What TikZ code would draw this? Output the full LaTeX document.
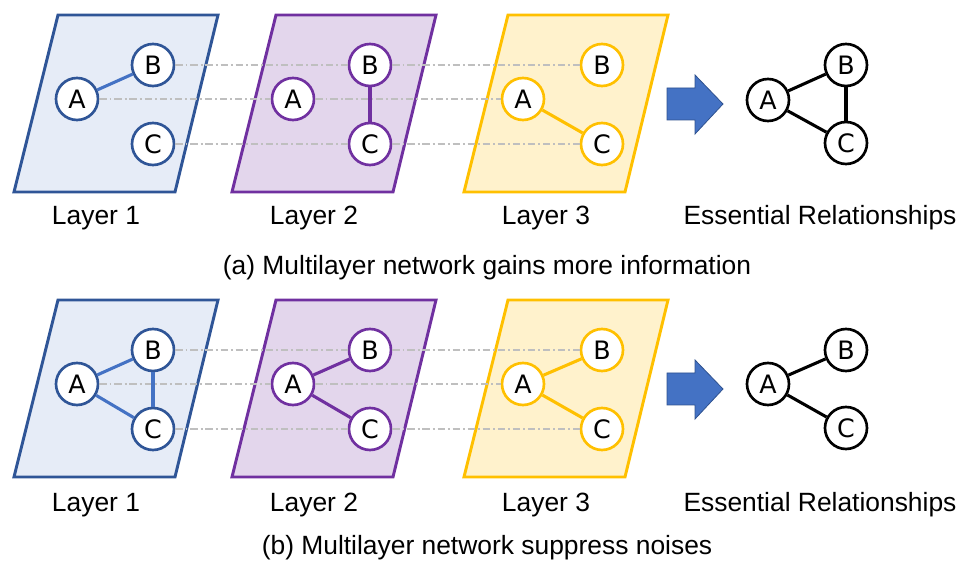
\documentclass[tikz,border=0pt]{standalone}
\usepackage{fontspec}
\setmainfont{Liberation Sans}
\newfontfamily\letterfont{DejaVu Sans}
\usepackage{xcolor}
\usepackage{tikz}
\usetikzlibrary{positioning}
\definecolor{blueline}{HTML}{2F5597}
\definecolor{bluefill}{HTML}{E6ECF7}
\definecolor{blueedge}{HTML}{4472C4}
\definecolor{purpleline}{HTML}{7030A0}
\definecolor{purplefill}{HTML}{E3D6EC}
\definecolor{goldline}{HTML}{FFC000}
\definecolor{goldfill}{HTML}{FFF2CC}
\definecolor{linkgray}{HTML}{BFBFBF}
\definecolor{arrowedge}{HTML}{2F528F}
\tikzstyle{vertex} = [circle, minimum size=31.5pt, inner sep=0pt, fill=white, line width=2pt, font=\letterfont\fontsize{19}{19}\selectfont]
\tikzstyle{blueV} = [vertex, draw=blueline]
\tikzstyle{purpleV} = [vertex, draw=purpleline]
\tikzstyle{goldV} = [vertex, draw=goldline]
\tikzstyle{blackV} = [vertex, draw=black]
\tikzstyle{bluepanel} = [draw=blueline, fill=bluefill, line width=2.2pt]
\tikzstyle{purplepanel} = [draw=purpleline, fill=purplefill, line width=2.2pt]
\tikzstyle{goldpanel} = [draw=goldline, fill=goldfill, line width=2.2pt]
\tikzstyle{tie} = [line width=2.3pt]
\tikzstyle{link} = [draw=linkgray, line width=1.1pt, dash pattern=on 5.5pt off 2.2pt on 1.4pt off 2.2pt]
\tikzstyle{bigarrow} = [fill=blueedge, draw=arrowedge, line width=0.6pt]
\tikzstyle{layertext} = [font=\fontsize{19.8}{19.8}\selectfont]

\begin{document}
\begin{tikzpicture}[x=0.75pt, y=-0.75pt]
\useasboundingbox (0,0) rectangle (972,566);

% (a) panels
\filldraw [bluepanel] (58,15) -- (218,15) -- (175,192) -- (14,192) -- cycle;
\filldraw [purplepanel] (276,15) -- (436,15) -- (393,192) -- (232,192) -- cycle;
\filldraw [goldpanel] (508,15) -- (668,15) -- (625,192) -- (464,192) -- cycle;

\node (a1A) [blueV] at (77,99) {A};
\node (a1B) [blueV] at (153,65) {B};
\node (a1C) [blueV] at (153,144) {C};
\node (a2A) [purpleV] at (293,99) {A};
\node (a2B) [purpleV] at (370,65) {B};
\node (a2C) [purpleV] at (370,144) {C};
\node (a3A) [goldV] at (523,99) {A};
\node (a3B) [goldV] at (602,65) {B};
\node (a3C) [goldV] at (602,144) {C};
\node (a4A) [blackV] at (768,100) {A};
\node (a4B) [blackV] at (846,65) {B};
\node (a4C) [blackV] at (846,143) {C};

\draw [link] (a1A) -- (a2A);
\draw [link] (a2A) -- (a3A);
\draw [link] (a1B) -- (a2B);
\draw [link] (a2B) -- (a3B);
\draw [link] (a1C) -- (a2C);
\draw [link] (a2C) -- (a3C);

\draw [tie, blueedge] (a1A) -- (a1B);
\draw [tie, purpleline] (a2B) -- (a2C);
\draw [tie, goldline] (a3A) -- (a3C);
\draw [tie] (a4A) -- (a4B);
\draw [tie] (a4B) -- (a4C);
\draw [tie] (a4A) -- (a4C);

\filldraw [bigarrow] (667,88) -- (695,88) -- (695,75) -- (723,104) -- (695,134) -- (695,120) -- (667,120) -- cycle;

\node (a1lab) [layertext] at (96,218) {Layer 1};
\node (a2lab) [layertext] at (314,218) {Layer 2};
\node (a3lab) [layertext] at (546,218) {Layer 3};
\node (a4lab) [layertext] at (820,218) {Essential Relationships};
\node (acap) [layertext] at (487,268) {(a) Multilayer network gains more information};

% (b) panels
\filldraw [bluepanel] (58,300) -- (218,300) -- (175,477) -- (14,477) -- cycle;
\filldraw [purplepanel] (276,300) -- (436,300) -- (393,477) -- (232,477) -- cycle;
\filldraw [goldpanel] (508,300) -- (668,300) -- (625,477) -- (464,477) -- cycle;

\node (b1A) [blueV] at (77,384) {A};
\node (b1B) [blueV] at (153,350) {B};
\node (b1C) [blueV] at (153,429) {C};
\node (b2A) [purpleV] at (293,384) {A};
\node (b2B) [purpleV] at (370,350) {B};
\node (b2C) [purpleV] at (370,429) {C};
\node (b3A) [goldV] at (523,384) {A};
\node (b3B) [goldV] at (602,350) {B};
\node (b3C) [goldV] at (602,429) {C};
\node (b4A) [blackV] at (768,384) {A};
\node (b4B) [blackV] at (846,350) {B};
\node (b4C) [blackV] at (846,428) {C};

\draw [link] (b1A) -- (b2A);
\draw [link] (b2A) -- (b3A);
\draw [link] (b1B) -- (b2B);
\draw [link] (b2B) -- (b3B);
\draw [link] (b1C) -- (b2C);
\draw [link] (b2C) -- (b3C);

\draw [tie, blueedge] (b1A) -- (b1B);
\draw [tie, blueedge] (b1B) -- (b1C);
\draw [tie, blueedge] (b1A) -- (b1C);
\draw [tie, purpleline] (b2A) -- (b2B);
\draw [tie, purpleline] (b2A) -- (b2C);
\draw [tie, goldline] (b3A) -- (b3B);
\draw [tie, goldline] (b3A) -- (b3C);
\draw [tie] (b4A) -- (b4B);
\draw [tie] (b4A) -- (b4C);

\filldraw [bigarrow] (667,373) -- (695,373) -- (695,360) -- (723,389) -- (695,419) -- (695,405) -- (667,405) -- cycle;

\node (b1lab) [layertext] at (96,505) {Layer 1};
\node (b2lab) [layertext] at (314,505) {Layer 2};
\node (b3lab) [layertext] at (546,505) {Layer 3};
\node (b4lab) [layertext] at (820,505) {Essential Relationships};
\node (bcap) [layertext] at (487,548) {(b) Multilayer network suppress noises};
\end{tikzpicture}
\end{document}
